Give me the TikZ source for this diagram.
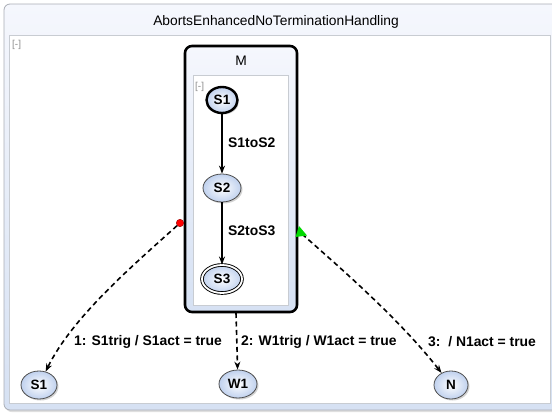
\documentclass[tikz,border=0pt]{standalone}
\usepackage{fontspec}
\setmainfont{Liberation Sans}
\usetikzlibrary{shapes.geometric,shadows,arrows.meta}
\definecolor{nodeblue}{HTML}{C0D1EE}
\definecolor{frametop}{HTML}{F5F7FD}
\definecolor{framebot}{HTML}{D6E1F3}
\definecolor{frameline}{HTML}{A9ADB5}
\definecolor{innerline}{HTML}{C8CCD2}
\definecolor{dimtext}{HTML}{8E8E8E}
\begin{document}
\begin{tikzpicture}[x=1pt,y=-1pt,
  statenode/.style={ellipse, draw=black!70, line width=0.8pt, inner color=white, outer color=nodeblue,
    drop shadow={opacity=0.35, shadow xshift=1.5pt, shadow yshift=-1.5pt},
    font=\fontsize{13.5}{15}\selectfont\bfseries, inner sep=0pt, minimum width=36, minimum height=28},
  trans/.style={draw=black, line width=1.6pt, -{Stealth[length=8pt,width=6pt]}},
  abort/.style={draw=black, line width=1.6pt, dash pattern=on 5pt off 3.5pt, -{Stealth[length=8pt,width=6pt]}},
  lbl/.style={font=\fontsize{13.9}{16}\selectfont\bfseries, inner sep=0pt, anchor=west},
  collapse/.style={font=\fontsize{10}{12}\selectfont, text=dimtext, inner sep=0pt, anchor=west}]
\path[use as bounding box] (0,0) rectangle (552,418);
\clip (0,0) rectangle (552,418);
% outer frame
\draw[draw=frameline, line width=0.8pt, rounded corners=6pt, top color=frametop, bottom color=framebot,
  drop shadow={opacity=0.25, shadow xshift=1.5pt, shadow yshift=-2pt}] (4,4) rectangle (562,410);
\node[font=\fontsize{13.8}{16}\selectfont] (title) at (276,22) {AbortsEnhancedNoTerminationHandling};
\draw[draw=innerline, line width=0.7pt, fill=white] (9,35) rectangle (550,403);
\node[collapse] (colouter) at (12,45) {[-]};
% composite state M
\draw[draw=black, line width=2.6pt, rounded corners=7pt, top color=frametop, bottom color=framebot] (185,46) rectangle (297,312);
\node[font=\fontsize{13.8}{16}\selectfont] (mtitle) at (241,61) {M};
\draw[draw=innerline, line width=0.7pt, fill=white] (193,75) rectangle (288,305);
\node[collapse] (colm) at (195,87) {[-]};
% inner states
\node[statenode, draw=black, line width=2.4pt, minimum width=31, minimum height=26] (s1) at (222,100) {S1};
\node[statenode, minimum width=38, minimum height=28] (s2) at (222,188) {S2};
\node[statenode, draw=black, double=white, double distance=1.8pt, line width=0.9pt, minimum width=40, minimum height=28] (s3) at (222,279) {S3};
\draw[trans] (s1) -- (s2);
\node[lbl] (l12) at (228,143) {S1toS2};
\draw[trans] (s2) -- (s3);
\node[lbl] (l23) at (228,231) {S2toS3};
% bottom states
\node[statenode] (b1) at (39,385) {S1};
\node[statenode, minimum width=38] (w1) at (238,384) {W1};
\node[statenode, minimum width=34] (n) at (451,385) {N};
% abort connectors
\coordinate (mb) at (236,313);
\coordinate (gt) at (302,234);
\draw[abort] (mb) -- (w1);
\draw[abort] (gt) .. controls (345,272) and (400,320) .. (n);
\node[circle, fill=red, draw=red!60!black, line width=0.4pt, minimum size=7.5pt, inner sep=0pt] (rdot) at (180,223) {};
\draw[abort] (rdot) .. controls (130,268) and (72,318) .. (b1);
\fill[green!85!black] (299,226) -- (295.5,237) -- (307,235.5) -- cycle;
% labels
\node[lbl] (la) at (74,342) {1: S1trig / S1act = true};
\node[lbl] (lb) at (241,342) {2: W1trig / W1act = true};
\node[lbl] (lc) at (428,342) {3:\ \ / N1act = true};
\end{tikzpicture}
\end{document}
